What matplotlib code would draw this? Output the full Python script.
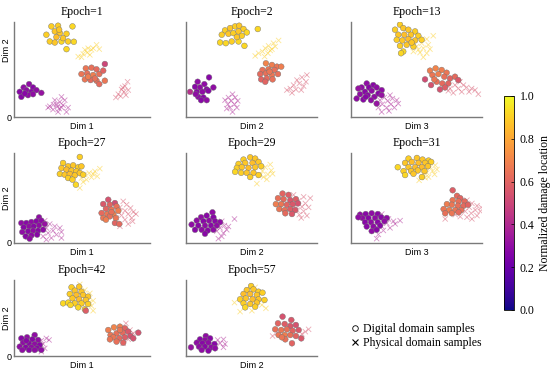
import numpy as np
import matplotlib
matplotlib.use("Agg")
import matplotlib.pyplot as plt
from matplotlib.lines import Line2D
from matplotlib.cm import ScalarMappable
from matplotlib.colors import Normalize

plt.rcParams["font.family"] = ["Liberation Serif", "DejaVu Serif"]

# epochs shown in each panel, and the x label under each column
epochs = [1, 2, 13, 27, 29, 31, 42, 57]
dim_labels = ["Dim 1", "Dim 2", "Dim 3"]

# (x, y, normalized damage location), axes span 0..10
dig_e1 = [
    (2.75, 9.54, .90), (3.24, 9.61, .90), (4.30, 9.54, .92), (2.38, 8.66, .90), (3.00, 9.01, .88),
    (3.37, 8.83, .88), (3.86, 8.76, .90), (2.63, 7.95, .90), (3.00, 7.84, .88), (3.49, 7.95, .92),
    (3.98, 7.95, .90), (4.40, 7.92, .92), (3.86, 7.14, .92), (3.61, 8.30, .88), (3.12, 8.41, .86),
    (3.32, 9.19, .88),
    (5.28, 5.12, .66), (5.70, 5.19, .64), (6.07, 5.02, .62), (6.68, 5.58, .50), (4.96, 4.52, .66),
    (5.38, 4.59, .64), (5.82, 4.42, .68), (6.27, 4.52, .64), (6.56, 4.88, .60), (5.21, 3.96, .66),
    (5.63, 3.89, .62), (6.07, 3.82, .64), (6.68, 3.82, .66), (6.27, 3.46, .62), (5.45, 4.24, .68),
    (5.95, 4.06, .64),
    (1.11, 3.46, .30), (1.40, 3.11, .28), (0.71, 3.11, .30), (0.42, 2.65, .28), (0.91, 2.83, .30),
    (1.28, 2.65, .28), (1.65, 2.83, .30), (2.01, 2.54, .32), (0.54, 2.12, .28), (1.03, 2.30, .30),
    (0.79, 2.47, .28), (1.40, 2.40, .30),
]
phys_e1 = [
    (4.72, 6.36, .9), (5.09, 6.64, .9), (5.38, 6.78, .9), (5.70, 7.07, .9), (6.07, 7.60, .9),
    (5.21, 7.07, .9), (5.58, 6.54, .9), (5.82, 7.24, .9), (4.96, 6.29, .9), (5.45, 7.24, .9),
    (6.27, 7.14, .9),
    (8.35, 3.71, .55), (8.16, 3.25, .55), (7.91, 2.90, .55), (8.08, 2.65, .55), (7.67, 2.40, .55),
    (8.40, 2.83, .55), (7.84, 2.19, .55), (7.49, 2.05, .55), (8.23, 2.30, .55), (7.99, 3.11, .55),
    (3.49, 2.12, .38), (3.00, 1.77, .38), (3.37, 1.59, .38), (3.73, 1.77, .38), (2.63, 1.13, .38),
    (3.12, 1.34, .38), (3.61, 1.24, .38), (3.98, 0.99, .38), (2.87, 0.78, .38), (3.32, 0.88, .38),
    (3.86, 0.53, .38), (3.24, 0.53, .38), (2.51, 0.99, .38), (3.20, 1.10, .38), (3.50, 1.00, .38),
    (2.90, 1.30, .38),
]

dig_e2 = [
    (2.98, 9.12, .90), (3.37, 9.36, .88), (3.75, 9.54, .90), (4.06, 9.61, .88), (4.39, 9.26, .90),
    (4.64, 8.90, .92), (5.48, 9.26, .92), (2.73, 8.66, .90), (3.24, 8.76, .88), (3.62, 8.83, .90),
    (4.01, 9.01, .88), (4.26, 8.55, .90), (2.60, 7.84, .92), (3.04, 7.77, .92), (3.49, 7.95, .90),
    (4.01, 7.95, .92), (4.46, 7.49, .92), (3.88, 8.41, .88),
    (6.10, 5.65, .70), (6.56, 5.48, .68), (6.94, 5.30, .66), (7.27, 5.30, .68), (5.84, 4.95, .64),
    (6.30, 5.02, .66), (6.76, 4.95, .64), (5.66, 4.52, .62), (6.10, 4.59, .64), (6.56, 4.42, .66),
    (7.02, 4.52, .64), (5.74, 3.96, .60), (6.17, 4.06, .62), (6.61, 3.96, .64), (6.05, 3.71, .60),
    (6.38, 4.77, .66),
    (0.89, 3.71, .30), (1.76, 4.17, .28), (1.40, 3.46, .30), (0.69, 3.18, .28), (1.07, 3.11, .30),
    (1.58, 2.90, .28), (2.09, 3.11, .30), (0.31, 2.65, .42), (0.82, 2.65, .28), (1.25, 2.65, .30),
    (1.71, 2.76, .28), (0.94, 2.12, .30), (1.33, 2.05, .28), (1.58, 1.77, .30), (1.15, 1.77, .28),
    (0.74, 2.40, .30),
]
phys_e2 = [
    (7.07, 8.06, .9), (6.68, 7.77, .9), (6.30, 7.49, .9), (6.05, 7.24, .9), (6.56, 7.14, .9),
    (5.84, 6.89, .9), (6.25, 6.71, .9), (5.54, 6.71, .9), (5.28, 6.43, .9), (6.00, 6.36, .9),
    (6.81, 7.42, .9), (6.43, 7.00, .9),
    (9.23, 4.42, .55), (8.85, 4.17, .55), (8.47, 3.89, .55), (8.65, 3.53, .55), (8.21, 3.36, .55),
    (8.98, 3.25, .55), (7.96, 3.00, .55), (8.39, 2.90, .55), (8.80, 2.83, .55), (7.70, 2.83, .55),
    (8.09, 2.54, .55), (9.16, 3.71, .55),
    (3.55, 2.40, .38), (3.24, 2.05, .38), (3.75, 2.05, .38), (2.98, 1.77, .38), (3.44, 1.70, .38),
    (3.95, 1.70, .38), (3.19, 1.34, .38), (3.70, 1.34, .38), (3.37, 0.99, .38), (3.88, 0.99, .38),
    (3.55, 0.53, .38), (3.11, 0.88, .38),
]

dig_e13 = [
    (3.74, 9.72, .90), (3.99, 9.36, .88), (3.36, 9.19, .90), (4.38, 9.19, .88), (4.89, 9.01, .90),
    (3.61, 8.66, .88), (4.07, 8.66, .86), (4.58, 8.66, .88), (5.14, 8.55, .90), (3.49, 8.13, .90),
    (3.92, 8.06, .88), (4.38, 8.20, .86), (4.89, 8.06, .88), (5.39, 8.13, .90), (3.74, 7.49, .90),
    (4.25, 7.60, .88), (4.76, 7.42, .90), (3.99, 6.89, .92), (3.82, 6.71, .92), (4.63, 7.84, .88),
    (6.03, 4.88, .68), (6.46, 5.12, .70), (6.92, 4.95, .68), (7.30, 4.66, .66), (5.65, 3.96, .52),
    (6.21, 4.42, .66), (6.67, 4.52, .68), (7.12, 4.24, .64), (7.56, 4.06, .60), (7.94, 4.24, .62),
    (6.11, 3.36, .54), (6.54, 3.71, .64), (6.97, 3.53, .62), (7.43, 3.53, .60), (8.19, 3.89, .56),
    (6.79, 2.90, .54), (7.18, 3.11, .58), (6.36, 3.96, .66),
    (1.20, 3.53, .30), (1.70, 3.36, .28), (0.81, 3.11, .30), (1.37, 3.11, .28), (1.96, 3.11, .30),
    (0.56, 3.00, .32), (2.34, 2.83, .30), (1.07, 2.65, .28), (1.58, 2.76, .30), (2.09, 2.47, .28),
    (0.69, 2.40, .30), (1.27, 2.30, .28), (1.78, 2.12, .30), (2.34, 2.30, .32), (0.43, 1.94, .30),
    (0.94, 1.84, .28), (1.53, 1.77, .30), (1.96, 1.41, .32), (1.12, 2.12, .28),
]
phys_e13 = [
    (6.28, 8.55, .9), (5.78, 8.20, .9), (5.39, 7.77, .9), (5.90, 7.60, .9), (5.01, 7.42, .9),
    (5.52, 7.24, .9), (6.03, 7.14, .9), (4.76, 6.89, .9), (5.27, 6.78, .9), (5.78, 6.71, .9),
    (5.52, 6.29, .9), (5.14, 7.07, .9),
    (8.32, 3.71, .55), (7.94, 3.36, .55), (8.58, 3.36, .55), (7.56, 3.00, .55), (8.19, 3.00, .55),
    (8.83, 3.11, .55), (9.21, 3.00, .55), (7.81, 2.54, .55), (8.45, 2.65, .55), (9.01, 2.65, .55),
    (9.72, 2.40, .55), (7.43, 2.76, .55), (9.47, 2.83, .55),
    (2.98, 2.30, .38), (2.54, 2.05, .38), (3.16, 1.94, .38), (2.21, 1.77, .38), (2.80, 1.70, .38),
    (3.49, 1.77, .38), (2.39, 1.34, .38), (3.05, 1.34, .38), (3.61, 1.41, .38), (2.09, 0.99, .38),
    (2.72, 0.99, .38), (3.31, 0.99, .38), (2.34, 0.53, .38), (2.90, 0.64, .38),
]

dig_e27 = [
    (4.84, 9.56, .90), (3.61, 8.89, .90), (3.98, 8.52, .88), (4.35, 8.63, .88), (4.72, 8.41, .90),
    (4.96, 8.52, .88), (3.49, 8.33, .88), (3.86, 8.15, .86), (4.23, 8.04, .88), (4.59, 7.96, .88),
    (3.37, 7.67, .90), (3.73, 7.59, .88), (4.10, 7.67, .86), (4.47, 7.52, .88), (4.84, 7.78, .88),
    (3.98, 7.22, .90), (4.30, 7.04, .90), (4.55, 6.48, .92), (5.09, 7.59, .90),
    (6.93, 4.81, .54), (7.42, 4.44, .52), (6.56, 4.33, .56), (7.05, 4.26, .60), (7.54, 4.07, .64),
    (6.76, 3.81, .60), (7.17, 3.70, .66), (7.67, 3.59, .68), (6.44, 3.33, .62), (6.86, 3.22, .66),
    (7.30, 3.22, .70), (6.56, 2.78, .66), (7.05, 2.96, .64), (6.76, 2.59, .68), (7.42, 2.22, .60),
    (7.74, 2.11, .62), (7.17, 3.44, .64), (7.49, 2.78, .66),
    (1.84, 2.85, .30), (0.54, 2.22, .30), (0.91, 2.22, .28), (1.28, 2.33, .30), (1.65, 2.41, .28),
    (2.01, 2.48, .30), (0.71, 1.74, .28), (1.11, 1.85, .30), (1.45, 1.85, .28), (1.84, 1.96, .30),
    (2.26, 2.11, .32), (0.61, 1.22, .30), (1.03, 1.30, .28), (1.40, 1.37, .30), (1.77, 1.37, .28),
    (2.14, 1.48, .30), (0.86, 0.74, .28), (1.28, 0.85, .30), (1.70, 0.93, .28), (1.15, 0.48, .30),
]
phys_e27 = [
    (6.31, 8.26, .9), (5.95, 7.96, .9), (5.53, 7.78, .9), (6.12, 7.41, .9), (5.21, 7.59, .9),
    (5.70, 7.30, .9), (5.33, 7.04, .9), (4.96, 7.22, .9), (4.84, 6.11, .9), (5.09, 6.78, .9),
    (5.82, 7.67, .9),
    (8.03, 4.63, .55), (8.28, 4.26, .55), (7.79, 3.96, .55), (8.57, 3.89, .55), (8.16, 3.59, .55),
    (7.67, 3.44, .55), (8.77, 3.44, .55), (8.40, 3.22, .55), (7.91, 3.07, .55), (8.97, 3.22, .55),
    (8.65, 2.78, .55), (8.16, 2.59, .55), (7.54, 2.78, .55), (8.40, 2.11, .55), (7.79, 1.85, .55),
    (8.72, 2.41, .55),
    (2.26, 2.48, .38), (2.63, 2.11, .38), (3.00, 1.85, .38), (3.37, 1.67, .38), (2.38, 1.67, .38),
    (2.87, 1.37, .38), (3.49, 1.22, .38), (2.51, 1.11, .38), (3.12, 0.93, .38), (2.14, 0.74, .38),
    (3.49, 0.56, .38), (2.75, 0.56, .38), (2.38, 0.37, .38),
]

dig_e29 = [
    (4.39, 9.27, .90), (4.90, 9.52, .88), (5.28, 9.38, .88), (4.01, 8.79, .90), (4.52, 8.90, .88),
    (5.08, 8.90, .86), (5.54, 9.01, .88), (3.88, 8.35, .90), (4.26, 8.42, .88), (4.77, 8.35, .86),
    (5.28, 8.42, .88), (5.74, 8.53, .90), (3.75, 7.91, .92), (4.21, 7.80, .90), (4.64, 7.80, .88),
    (5.15, 7.80, .88), (5.54, 7.55, .90), (4.90, 7.33, .90),
    (7.37, 5.49, .60), (7.83, 5.35, .58), (7.02, 4.98, .64), (7.45, 4.87, .62), (7.96, 4.76, .56),
    (8.39, 4.87, .58), (6.86, 4.32, .68), (7.27, 4.32, .66), (7.70, 4.25, .60), (8.14, 4.32, .56),
    (8.55, 4.40, .54), (7.12, 3.77, .66), (7.53, 3.66, .64), (7.96, 3.77, .58), (8.34, 3.66, .56),
    (7.58, 3.30, .62), (8.09, 3.22, .56),
    (2.02, 3.41, .30), (1.58, 3.04, .28), (1.15, 2.86, .30), (2.09, 2.86, .28), (0.82, 2.49, .30),
    (1.33, 2.42, .28), (1.76, 2.49, .30), (2.22, 2.42, .28), (2.60, 2.31, .30), (0.43, 2.05, .30),
    (0.94, 1.94, .28), (1.45, 1.94, .30), (1.91, 1.94, .28), (2.35, 1.94, .30), (0.69, 1.47, .28),
    (1.20, 1.47, .30), (1.66, 1.39, .28), (2.09, 1.47, .30), (1.45, 1.03, .28),
]
phys_e29 = [
    (6.43, 8.72, .9), (6.05, 8.42, .9), (6.51, 8.06, .9), (5.84, 7.99, .9), (6.25, 7.62, .9),
    (5.92, 7.33, .9), (6.61, 7.69, .9), (5.66, 7.55, .9), (5.41, 6.59, .9), (6.17, 7.07, .9),
    (8.21, 5.35, .55), (8.98, 5.13, .55), (9.49, 4.98, .55), (8.60, 4.69, .55), (9.11, 4.40, .55),
    (8.34, 4.14, .55), (8.85, 4.03, .55), (9.36, 3.96, .55), (8.47, 3.66, .55), (8.98, 3.52, .55),
    (8.65, 3.15, .55), (9.23, 3.04, .55), (8.80, 2.78, .55), (8.09, 3.52, .55),
    (3.70, 2.67, .38), (2.73, 2.42, .38), (2.42, 2.12, .38), (2.93, 1.94, .38), (2.60, 1.68, .38),
    (3.11, 1.47, .38), (2.35, 1.32, .38), (2.86, 1.10, .38), (2.47, 0.48, .38), (3.24, 1.83, .38),
    (2.73, 0.73, .38),
]

dig_e31 = [
    (4.39, 9.38, .90), (5.03, 9.45, .88), (5.46, 9.27, .88), (5.92, 9.16, .90), (4.13, 8.90, .88),
    (4.64, 9.01, .86), (5.15, 8.90, .86), (5.66, 8.90, .88), (6.12, 9.01, .90), (3.57, 8.42, .92),
    (4.39, 8.42, .88), (4.90, 8.42, .86), (5.41, 8.42, .86), (5.87, 8.53, .88), (4.01, 7.99, .90),
    (4.59, 7.99, .88), (5.10, 8.06, .88), (5.61, 7.99, .88), (4.13, 7.55, .92), (5.41, 7.33, .90),
    (4.77, 7.69, .88),
    (7.76, 5.86, .58), (8.09, 5.24, .62), (8.34, 4.98, .60), (7.76, 4.76, .66), (8.21, 4.62, .64),
    (8.67, 4.62, .62), (7.32, 4.32, .68), (7.70, 4.25, .66), (8.16, 4.14, .64), (8.60, 4.14, .62),
    (8.93, 4.25, .60), (7.07, 3.77, .66), (7.50, 3.66, .68), (7.96, 3.66, .66), (8.42, 3.66, .64),
    (7.19, 3.30, .64), (7.70, 3.30, .66), (8.21, 3.41, .62),
    (0.69, 3.15, .30), (1.12, 3.22, .28), (1.58, 3.30, .30), (2.04, 3.22, .28), (0.87, 2.78, .30),
    (1.33, 2.78, .28), (1.84, 2.78, .30), (2.30, 2.86, .28), (2.73, 2.78, .30), (1.07, 2.31, .28),
    (1.53, 2.31, .30), (2.04, 2.31, .28), (2.55, 2.42, .30), (1.20, 1.83, .28), (1.71, 1.83, .30),
    (2.22, 1.94, .28), (1.58, 1.32, .30), (1.96, 1.47, .28), (0.56, 2.86, .30),
]
phys_e31 = [
    (6.43, 8.64, .9), (6.05, 8.42, .9), (6.56, 8.17, .9), (6.22, 7.99, .9), (5.79, 7.80, .9),
    (6.38, 7.62, .9), (5.54, 7.62, .9), (5.92, 7.33, .9), (5.20, 6.96, .9), (5.66, 7.25, .9),
    (8.85, 4.76, .55), (9.23, 4.40, .55), (9.62, 4.14, .55), (9.03, 3.96, .55), (9.49, 3.66, .55),
    (9.87, 3.52, .55), (8.72, 3.52, .55), (9.18, 3.30, .55), (9.62, 3.04, .55), (8.34, 2.93, .55),
    (8.85, 2.86, .55), (9.23, 2.67, .55), (7.19, 2.67, .55), (7.96, 3.15, .55), (9.95, 3.96, .55),
    (2.35, 3.22, .38), (2.86, 2.67, .38), (3.24, 2.42, .38), (3.75, 2.49, .38), (2.73, 2.20, .38),
    (3.37, 2.12, .38), (2.35, 1.83, .38), (2.98, 1.68, .38), (1.84, 1.47, .38), (2.47, 1.39, .38),
    (2.09, 0.95, .38), (1.96, 0.48, .38),
]

dig_e42 = [
    (4.23, 9.04, .90), (4.79, 9.12, .88), (4.47, 8.60, .88), (4.96, 8.46, .88), (4.10, 8.16, .90),
    (4.59, 8.03, .86), (5.09, 8.03, .88), (5.45, 7.81, .88), (4.30, 7.59, .88), (4.79, 7.46, .86),
    (5.28, 7.37, .88), (3.61, 6.93, .92), (3.98, 7.02, .92), (4.47, 6.93, .90), (4.96, 6.93, .90),
    (5.45, 6.84, .90), (4.72, 6.40, .92), (5.21, 6.14, .90), (4.15, 6.71, .92),
    (6.93, 3.42, .68), (7.35, 3.77, .70), (7.79, 3.86, .68), (8.16, 3.64, .60), (7.10, 2.76, .66),
    (7.54, 2.98, .64), (7.99, 3.07, .62), (8.40, 3.20, .56), (7.30, 2.46, .66), (7.74, 2.32, .62),
    (8.16, 2.46, .58), (8.57, 2.63, .54), (7.54, 1.89, .64), (8.03, 1.75, .60), (7.05, 2.19, .66),
    (9.14, 3.07, .54), (8.77, 2.32, .54), (7.79, 3.42, .66), (5.28, 5.96, .58),
    (1.52, 2.76, .30), (0.54, 2.32, .28), (0.96, 2.46, .30), (1.35, 2.19, .28), (1.77, 2.11, .30),
    (0.66, 1.75, .30), (1.11, 1.67, .28), (1.52, 1.58, .30), (1.89, 1.45, .28), (0.42, 1.23, .30),
    (0.86, 1.14, .28), (1.28, 1.14, .30), (1.70, 1.01, .28), (0.61, 0.79, .30), (1.11, 0.79, .28),
    (1.52, 0.79, .30), (2.01, 0.79, .30), (0.91, 2.02, .28),
]
phys_e42 = [
    (4.84, 9.43, .9), (5.21, 8.68, .9), (5.58, 8.25, .9), (5.82, 7.28, .9), (5.38, 7.46, .9),
    (5.70, 6.58, .9), (5.82, 5.96, .9), (5.09, 6.71, .9), (5.53, 7.02, .9),
    (8.23, 4.30, .55), (7.91, 3.64, .55), (8.53, 3.42, .55), (8.08, 2.89, .55), (8.65, 2.76, .55),
    (7.79, 2.63, .55), (8.40, 2.19, .55), (8.03, 1.67, .55), (8.77, 2.98, .55),
    (2.01, 2.02, .38), (2.38, 2.32, .38), (2.58, 2.11, .38), (2.14, 1.58, .38), (1.77, 1.32, .38),
    (2.26, 1.01, .38), (2.01, 0.57, .38), (1.84, 1.89, .38),
]

dig_e57 = [
    (4.97, 9.21, .90), (4.64, 8.68, .88), (5.15, 8.77, .88), (5.54, 8.46, .90), (4.39, 8.16, .86),
    (4.90, 8.16, .86), (5.41, 8.03, .88), (5.84, 8.33, .90), (4.13, 7.46, .90), (4.57, 7.59, .88),
    (5.08, 7.46, .86), (5.54, 7.46, .88), (5.99, 7.37, .90), (4.39, 6.93, .90), (4.90, 6.84, .88),
    (5.41, 7.02, .88), (4.52, 6.40, .92), (5.28, 6.49, .90),
    (7.37, 5.18, .54), (8.04, 4.74, .56), (7.02, 4.30, .60), (7.53, 4.21, .58), (7.96, 3.95, .56),
    (8.39, 4.08, .54), (6.81, 3.51, .64), (7.27, 3.42, .66), (7.70, 3.51, .64), (8.14, 3.33, .60),
    (8.60, 3.42, .56), (7.07, 2.76, .66), (7.53, 2.76, .68), (7.96, 2.76, .64), (8.39, 2.63, .60),
    (8.80, 2.32, .56), (7.58, 2.19, .64), (8.09, 1.67, .60), (7.32, 2.46, .66),
    (1.51, 2.63, .30), (1.07, 2.19, .28), (1.45, 2.11, .30), (1.84, 2.32, .28), (0.82, 1.75, .30),
    (1.25, 1.67, .28), (1.71, 1.75, .30), (2.17, 1.58, .28), (0.99, 1.23, .30), (1.45, 1.23, .28),
    (1.91, 1.14, .30), (0.38, 1.14, .32), (1.20, 0.79, .30), (1.71, 0.70, .28), (2.22, 1.01, .30),
]
phys_e57 = [
    (3.70, 7.02, .9), (4.13, 5.83, .9), (5.03, 5.96, .9), (6.10, 6.27, .9), (5.28, 9.04, .9),
    (5.79, 6.71, .9), (5.54, 7.81, .9),
    (9.36, 3.51, .55), (9.11, 3.20, .55), (6.61, 2.63, .55), (6.94, 3.07, .55), (8.85, 2.89, .55),
    (2.42, 2.11, .38), (2.86, 2.19, .38), (2.60, 1.67, .38), (2.98, 1.58, .38), (2.27, 1.32, .38),
    (2.86, 1.14, .38),
]

digital = [dig_e1, dig_e2, dig_e13, dig_e27, dig_e29, dig_e31, dig_e42, dig_e57]
physical = [phys_e1, phys_e2, phys_e13, phys_e27, phys_e29, phys_e31, phys_e42, phys_e57]

W, H = 550, 369
fig = plt.figure(figsize=(W / 100, H / 100), dpi=100)

# panel boxes in pixels: left, right / top, bottom
col_px = [(14, 150), (186, 317), (351, 482)]
row_px = [(22, 117), (153, 243), (280, 356)]

for i, ep in enumerate(epochs):
    r, c = divmod(i, 3)
    x0, x1 = col_px[c]
    y0, y1 = row_px[r]
    ax = fig.add_axes([x0 / W, 1 - y1 / H, (x1 - x0) / W, (y1 - y0) / H])

    p = np.array(physical[i])
    d = np.array(digital[i])
    ax.scatter(p[:, 0], p[:, 1], c=p[:, 2], cmap="plasma", vmin=0, vmax=1,
               marker="x", s=14, linewidths=0.6, alpha=0.5)
    ax.scatter(d[:, 0], d[:, 1], c=d[:, 2], cmap="plasma", vmin=0, vmax=1,
               s=17, edgecolors="0.45", linewidths=0.3)

    ax.set_xlim(0, 10)
    ax.set_ylim(0, 10)
    for s in ["top", "right"]:
        ax.spines[s].set_visible(False)
    for s in ["left", "bottom"]:
        ax.spines[s].set_color("#7a7a7a")
        ax.spines[s].set_linewidth(1.0)
    ax.set_xticks([])
    ax.tick_params(length=0, pad=2, labelsize=6.5, labelfontfamily="Liberation Sans")
    ax.set_title("Epoch=%d" % ep, fontsize=8.5, pad=5)
    ax.set_xlabel(dim_labels[c], fontsize=6.5, family="Liberation Sans", labelpad=3.5)
    if c == 0:
        ax.set_yticks([0])
        ax.set_ylabel("Dim 2", fontsize=6.5, family="Liberation Sans")
        if r == 0:
            ax.yaxis.set_label_coords(-0.02, 0.7)
        else:
            ax.yaxis.set_label_coords(-0.02, 0.5)
    else:
        ax.set_yticks([])

# colorbar
cax = fig.add_axes([504 / W, 1 - 310 / H, 10 / W, 214 / H])
cb = fig.colorbar(ScalarMappable(norm=Normalize(0, 1), cmap="plasma"), cax=cax)
cb.set_ticks([0, 0.2, 0.4, 0.6, 0.8, 1.0])
cb.ax.tick_params(labelsize=8.5, length=2, width=0.5, direction="in", pad=4)
cb.outline.set_linewidth(0.6)
cb.set_label("Normalized damage location", fontsize=8.5, labelpad=3)

# marker legend
handles = [
    Line2D([], [], marker="o", linestyle="", markerfacecolor="none",
           markeredgecolor="k", markersize=4, markeredgewidth=0.6),
    Line2D([], [], marker="x", linestyle="", color="k", markersize=4, markeredgewidth=0.8),
]
fig.legend(handles, ["Digital domain samples", "Physical domain samples"],
           loc="upper left", bbox_to_anchor=(351 / W, 1 - 323 / H), frameon=False,
           fontsize=8.5, handlelength=0.6, handletextpad=0.4, labelspacing=0.15,
           borderpad=0, borderaxespad=0)

fig.savefig("out.png", dpi=100)
